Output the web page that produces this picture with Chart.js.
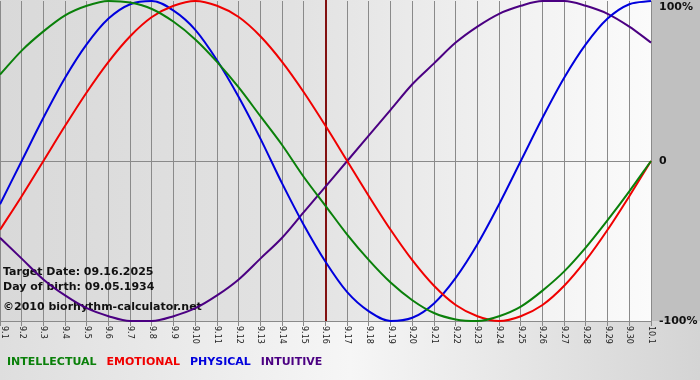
<!DOCTYPE html>
<html><head><meta charset="utf-8">
<script src="https://cdn.jsdelivr.net/npm/chart.js@4/dist/chart.umd.min.js"></script>
<style>html,body{margin:0;padding:0;overflow:hidden;background:#fff}#wrap{width:700px;height:380px;position:relative}</style>
</head><body><div id="wrap"><canvas id="c" width="700" height="380"></canvas></div>
<script>
const days = ['9.1','9.2','9.3','9.4','9.5','9.6','9.7','9.8','9.9','9.10','9.11','9.12','9.13','9.14','9.15','9.16','9.17','9.18','9.19','9.20','9.21','9.22','9.23','9.24','9.25','9.26','9.27','9.28','9.29','9.30','10.1'];
const intellectual = [0.54,0.69,0.81,0.91,0.97,1.00,0.99,0.95,0.87,0.76,0.62,0.46,0.28,0.10,-0.10,-0.28,-0.46,-0.62,-0.76,-0.87,-0.95,-0.99,-1.00,-0.97,-0.91,-0.81,-0.69,-0.54,-0.37,-0.19,0.00];
const emotional = [-0.43,-0.22,0.00,0.22,0.43,0.62,0.78,0.90,0.97,1.00,0.97,0.90,0.78,0.62,0.43,0.22,0.00,-0.22,-0.43,-0.62,-0.78,-0.90,-0.97,-1.00,-0.97,-0.90,-0.78,-0.62,-0.43,-0.22,0.00];
const physical = [-0.27,0.00,0.27,0.52,0.73,0.89,0.98,1.00,0.94,0.82,0.63,0.40,0.14,-0.14,-0.40,-0.63,-0.82,-0.94,-1.00,-0.98,-0.89,-0.73,-0.52,-0.27,0.00,0.27,0.52,0.73,0.89,0.98,1.00];
const intuitive = [-0.48,-0.61,-0.74,-0.84,-0.92,-0.97,-1.00,-1.00,-0.97,-0.92,-0.84,-0.74,-0.61,-0.48,-0.32,-0.16,0.00,0.16,0.32,0.48,0.61,0.74,0.84,0.92,0.97,1.00,1.00,0.97,0.92,0.84,0.74];
const yTicks = [1, 0, -1];
const yTickLabels = ['100%', '0', '-100%'];
const targetDay = '9.16';
const infoLines = ['Target Date: 09.16.2025', 'Day of birth: 09.05.1934', '\u00A92010 biorhythm-calculator.net'];
const seriesNames = ['INTELLECTUAL', 'EMOTIONAL', 'PHYSICAL', 'INTUITIVE'];
const seriesColors = ['#0a800a', '#f00000', '#0000dd', '#4b0082'];
const seriesData = [intellectual, emotional, physical, intuitive];

const GRID = '#8a8a8a';

const decor = {
  id: 'decor',
  beforeDraw(chart) {
    const ctx = chart.ctx, a = chart.chartArea, W = chart.width, H = chart.height;
    ctx.save();
    let g = ctx.createLinearGradient(0, 0, W, 0);
    g.addColorStop(0, '#dedede'); g.addColorStop(0.5, '#f6f6f6'); g.addColorStop(1, '#d4d4d4');
    ctx.fillStyle = g; ctx.fillRect(0, 0, W, H);
    ctx.fillStyle = '#c0c0c0'; ctx.fillRect(a.right, 0, W - a.right, a.bottom);
    g = ctx.createLinearGradient(a.left, 0, a.right, 0);
    g.addColorStop(0, '#d9d9d9'); g.addColorStop(0.45, '#e2e2e2'); g.addColorStop(1, '#fbfbfb');
    ctx.fillStyle = g; ctx.fillRect(a.left, 0, a.right - a.left, a.bottom);
    ctx.restore();
  },
  beforeDatasetsDraw(chart) {
    const ctx = chart.ctx, a = chart.chartArea, xs = chart.scales.x;
    ctx.save();
    ctx.fillStyle = '#111';
    ctx.font = 'bold 11px "DejaVu Sans"';
    ctx.textBaseline = 'alphabetic'; ctx.textAlign = 'left';
    ctx.fillText(infoLines[0], 3, 275);
    ctx.fillText(infoLines[1], 3, 290);
    ctx.fillText(infoLines[2], 3, 310);
    const tx = Math.round(xs.getPixelForValue(days.indexOf(targetDay)));
    ctx.strokeStyle = '#821010'; ctx.lineWidth = 2;
    ctx.beginPath(); ctx.moveTo(tx, 0); ctx.lineTo(tx, a.bottom); ctx.stroke();
    ctx.restore();
  },
  afterDraw(chart) {
    const ctx = chart.ctx, a = chart.chartArea, xs = chart.scales.x, ys = chart.scales.y;
    ctx.save();
    ctx.fillStyle = '#222';
    ctx.font = '8px "DejaVu Sans"';
    ctx.textAlign = 'left'; ctx.textBaseline = 'middle';
    days.forEach((d, i) => {
      const x = Math.max(xs.getPixelForValue(i), 4);
      ctx.save(); ctx.translate(x, a.bottom + 5); ctx.rotate(Math.PI / 2);
      ctx.fillText(d, 0, 0); ctx.restore();
    });
    ctx.fillStyle = '#111';
    ctx.font = 'bold 11px "DejaVu Sans"';
    yTicks.forEach((v, i) => {
      const y = Math.min(Math.max(ys.getPixelForValue(v), 7), chart.height - 6);
      ctx.fillText(yTickLabels[i], a.right + 8, y);
    });
    ctx.textBaseline = 'alphabetic';
    let x = 7;
    seriesNames.forEach((n, i) => {
      ctx.fillStyle = seriesColors[i];
      ctx.fillText(n, x, 365);
      x += ctx.measureText(n).width + 10;
    });
    ctx.restore();
  }
};

new Chart(document.getElementById('c'), {
  type: 'line',
  data: {
    labels: days,
    datasets: seriesNames.map((n, i) => ({
      label: n, data: seriesData[i], borderColor: seriesColors[i],
      borderWidth: 2, pointRadius: 0, fill: false, cubicInterpolationMode: 'monotone', clip: 3
    }))
  },
  options: {
    responsive: false, animation: false, devicePixelRatio: 1,
    layout: { padding: { top: 1, left: 0, right: 0, bottom: 0 } },
    plugins: { legend: { display: false }, tooltip: { enabled: false } },
    scales: {
      x: {
        type: 'category', offset: false,
        grid: { color: GRID, lineWidth: 1, drawTicks: true, tickLength: 5 },
        border: { color: GRID },
        ticks: { display: false, autoSkip: false },
        afterFit(s) { s.height = 59; }
      },
      y: {
        position: 'right', min: -1, max: 1,
        ticks: { display: false, stepSize: 1 },
        grid: { color: c => (c.tick && c.tick.value === 0) ? GRID : 'rgba(0,0,0,0)', drawTicks: false },
        border: { display: false },
        afterFit(s) { s.width = 49; }
      }
    }
  },
  plugins: [decor]
});
</script></body></html>
